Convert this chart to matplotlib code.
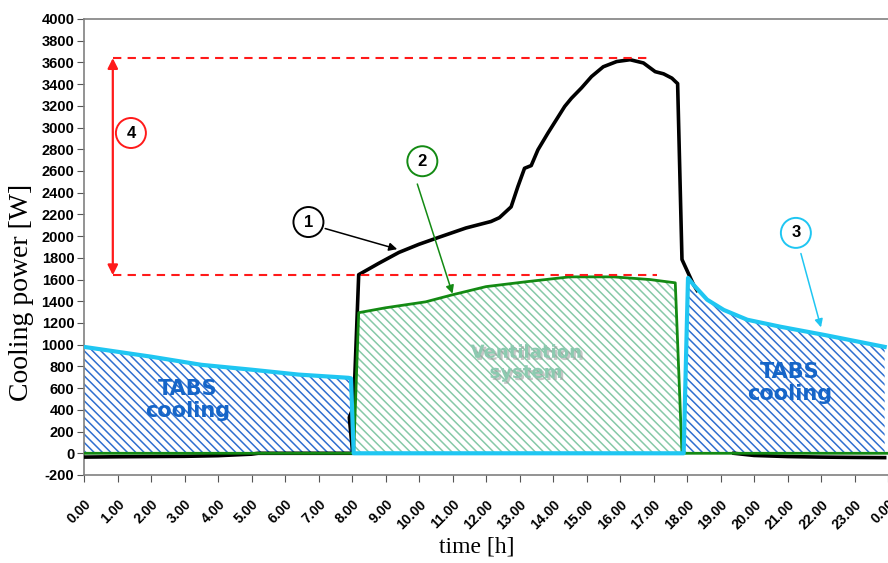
import matplotlib
matplotlib.use("Agg")
import matplotlib.pyplot as plt
import numpy as np
import matplotlib.patheffects as pe

# ---------------- data ----------------
hours_total = [0, 1, 2, 3, 4, 5, 5.2, 6, 7, 8.02, 7.92, 8.05, 8.2, 8.8, 9.4, 10.0, 10.6,
               11.4, 12.15, 12.4, 12.75, 12.95, 13.15, 13.35, 13.55, 13.85, 14.35, 14.55,
               14.85, 15.15, 15.5, 15.9, 16.3, 16.7, 17.05, 17.3, 17.55, 17.65, 17.72,
               17.85, 18.2, 18.3,
               18.9,
               19.4, 20, 21, 22, 23, 23.9]
total = [-35, -32, -30, -28, -22, -8, 0, 0, 0, 0, 330, 430, 1645, 1750, 1850, 1925, 1990,
         2075, 2135, 2170, 2270, 2455, 2625, 2650, 2795, 2950, 3195, 3270,
         3365, 3470, 3560, 3608, 3625, 3595, 3515, 3495, 3455, 3425, 3405,
         1785, 1550, 1500,
         np.nan,
         0, -20, -30, -35, -38, -40]

hours_vent = [0, 8.05, 8.2, 9, 10.2, 11, 12, 13.2, 14.5, 15.8, 16.9, 17.65, 17.85, 24]
ventilation = [0, 0, 1295, 1340, 1395, 1460, 1535, 1580, 1625, 1625, 1600, 1570, 0, 0]

hours_tabs = [0, 1, 2, 3.5, 5, 6.4, 7.9, 7.97, 8.05, 17.9, 18.03, 18.2, 18.6, 19.1,
              19.8, 20.8, 22.1, 23.9]
tabs = [980, 935, 890, 815, 770, 725, 695, 690, 0, 0, 1615, 1550, 1415, 1320,
        1230, 1165, 1090, 980]

peak_total = 3640
peak_vent = 1640

y_ticks = list(range(-200, 4001, 200))
x_ticks = list(range(0, 25))
x_ticklabels = [f"{h % 24}.00" for h in x_ticks]

# ---------------- figure ----------------
plt.rcParams['hatch.linewidth'] = 1.1
fig = plt.figure(figsize=(8.88, 5.63), dpi=100)
ax = fig.add_axes([84/888, 1-475/563, 1-84/888, (475-19)/563])

c_cyan = '#1fc6f2'
c_green = '#138a13'
c_blue_h = '#2f6fd0'
c_green_h = '#86c9a8'

ax.fill_between(hours_tabs, 0, tabs, facecolor='white', edgecolor=c_blue_h,
                hatch='\\\\\\\\', linewidth=0, zorder=1)
ax.fill_between(hours_vent, 0, ventilation, facecolor='white', edgecolor=c_green_h,
                hatch='\\\\\\\\', linewidth=0, zorder=1)

ax.plot(hours_total, total, color='black', lw=2.6, zorder=3)
ax.plot(hours_vent, ventilation, color=c_green, lw=2, zorder=4)
ax.plot(hours_tabs, tabs, color=c_cyan, lw=3, zorder=5)

# red annotation
red = '#ff1a1a'
ax.plot([0.86, 16.95], [peak_total, peak_total], color=red, lw=1.5, ls=(0, (4, 3)), zorder=6)
ax.plot([0.86, 17.1], [peak_vent, peak_vent], color=red, lw=1.5, ls=(0, (4, 3)), zorder=6)
ax.annotate('', xy=(0.86, peak_total), xytext=(0.86, peak_vent),
            arrowprops=dict(arrowstyle='<|-|>', color=red, lw=1.6,
                            mutation_scale=15, shrinkA=0, shrinkB=0), zorder=7)

def circ(x, y, s, ec):
    ax.text(x, y, s, ha='center', va='center', fontsize=12, fontweight='bold',
            color='black', family='Liberation Sans', zorder=8,
            bbox=dict(boxstyle='circle,pad=0.45', fc='white', ec=ec, lw=1.4))

circ(1.4, 2950, '4', red)
circ(6.7, 2130, '1', 'black')
circ(10.1, 2690, '2', c_green)
circ(21.25, 2030, '3', c_cyan)

def arr(xy, xyt, color):
    ax.annotate('', xy=xy, xytext=xyt,
                arrowprops=dict(arrowstyle='-|>', color=color, lw=1.1,
                                mutation_scale=12, shrinkA=0, shrinkB=0), zorder=7)

arr((9.35, 1880), (7.2, 2070), 'black')
arr((11.0, 1470), (9.95, 2480), c_green)
arr((22.0, 1160), (21.4, 1840), c_cyan)

# region labels
lab_kw = dict(ha='center', va='center', fontweight='bold',
              family='DejaVu Sans', zorder=6)
ax.text(3.09, 493, 'TABS\ncooling', color='#1565c8', fontsize=15, linespacing=1.1, **lab_kw)
ax.text(21.06, 649, 'TABS\ncooling', color='#1565c8', fontsize=15, linespacing=1.1, **lab_kw)
ax.text(13.19, 833, 'Ventilation\nsystem', color='#8ccab0', fontsize=13, linespacing=1.15,
        path_effects=[pe.SimplePatchShadow(offset=(1.5, -1.5), shadow_rgbFace='#a0a0a0', alpha=0.6),
                      pe.Normal()], **lab_kw)

# axes
ax.set_xlim(0, (888-84)/33.6)
ax.set_ylim(-200, 4000)
ax.set_yticks(y_ticks)
ax.set_yticklabels([str(v) for v in y_ticks], fontsize=10.5, fontweight='bold',
                   family='Liberation Sans')
ax.set_xticks(x_ticks)
ax.set_xticklabels(x_ticklabels, rotation=45, ha='right', va='top', fontsize=10,
                   fontweight='bold', family='Liberation Sans', rotation_mode='anchor')
ax.tick_params(axis='x', direction='out', length=5, pad=11, color='#555555')
ax.tick_params(axis='y', direction='out', length=5, pad=2, color='#555555')
for s in ['left', 'bottom', 'top']:
    ax.spines[s].set_color('#808080')
    ax.spines[s].set_linewidth(1.2)
ax.spines['right'].set_visible(False)

ax.set_ylabel('Cooling power [W]', family='Liberation Serif', fontsize=20)
ax.yaxis.set_label_coords(-(84-34)/804, (475-292)/456)
ax.set_xlabel('time [h]', family='Liberation Serif', fontsize=17)
ax.xaxis.set_label_coords((477-84)/804, -(537-475)/456)

fig.savefig('out.png', dpi=100)
